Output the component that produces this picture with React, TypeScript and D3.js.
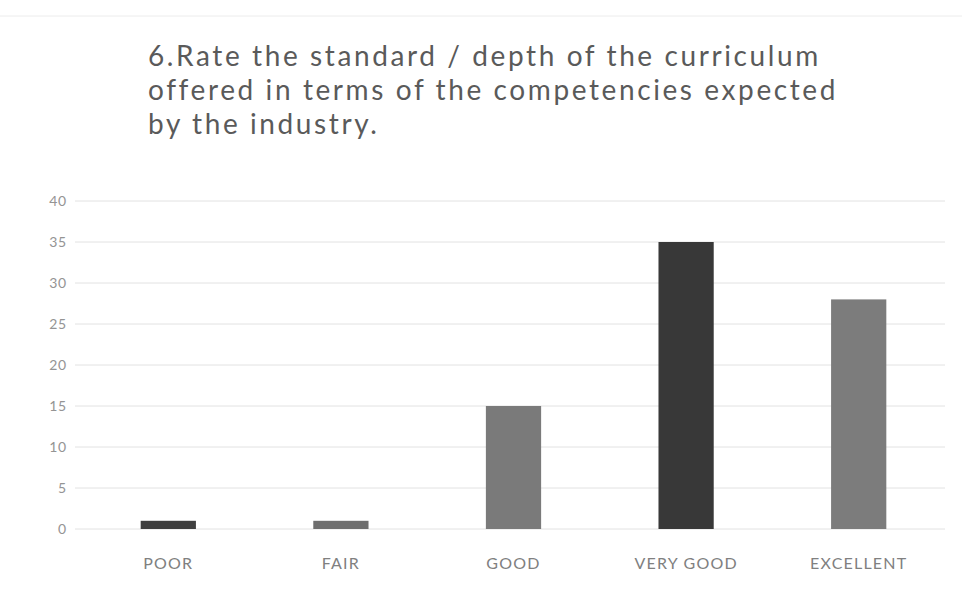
import { useEffect, useRef } from "react";
import * as d3 from "d3";

const categories = ["POOR", "FAIR", "GOOD", "VERY GOOD", "EXCELLENT"];
const values = [1, 1, 15, 35, 28];
const barColors = ["#3f3f3f", "#6e6e6e", "#7a7a7a", "#383838", "#7c7c7c"];
const yTicks = [0, 5, 10, 15, 20, 25, 30, 35, 40];
const titleLines = [
  "6.Rate the standard / depth of the curriculum",
  "offered in terms of the competencies expected",
  "by the industry.",
];

const App = () => {
  const svgRef = useRef<SVGSVGElement | null>(null);

  useEffect(() => {
    if (!svgRef.current) return;
    const width = 962;
    const height = 590;
    const svg = d3.select(svgRef.current);
    svg.selectAll("*").remove();

    svg.append("rect").attr("width", width).attr("height", height).attr("fill", "#fff");

    // faint scan line at the top
    svg.append("line")
      .attr("x1", 0).attr("x2", width).attr("y1", 16).attr("y2", 16)
      .attr("stroke", "#ececec").attr("stroke-width", 1);

    // title
    svg.append("g")
      .selectAll("text")
      .data(titleLines)
      .join("text")
      .attr("x", 148)
      .attr("y", (_, i) => 66 + i * 34)
      .attr("font-family", "Lato, 'Open Sans', sans-serif")
      .attr("font-size", 28)
      .attr("letter-spacing", 2.6)
      .attr("fill", "#5a5a5a")
      .text(d => d);

    const x = d3.scaleBand<string>()
      .domain(categories)
      .range([82, 945])
      .paddingInner(0.68)
      .paddingOuter(0.34);

    const y = d3.scaleLinear().domain([0, 40]).range([529, 201]);

    // gridlines
    svg.append("g")
      .selectAll("line")
      .data(yTicks)
      .join("line")
      .attr("x1", 75)
      .attr("x2", 945)
      .attr("y1", d => y(d))
      .attr("y2", d => y(d))
      .attr("stroke", "#e2e2e2")
      .attr("stroke-width", 1);

    // y tick labels
    svg.append("g")
      .selectAll("text")
      .data(yTicks)
      .join("text")
      .attr("x", 67)
      .attr("y", d => y(d) + 5)
      .attr("text-anchor", "end")
      .attr("font-family", "Lato, 'Open Sans', sans-serif")
      .attr("font-size", 14)
      .attr("letter-spacing", 0.8)
      .attr("fill", "#949494")
      .text(d => d);

    // bars
    svg.append("g")
      .selectAll("rect")
      .data(values)
      .join("rect")
      .attr("x", (_, i) => x(categories[i])!)
      .attr("width", x.bandwidth())
      .attr("y", d => y(d))
      .attr("height", d => y(0) - y(d))
      .attr("fill", (_, i) => barColors[i]);

    // x labels
    svg.append("g")
      .selectAll("text")
      .data(categories)
      .join("text")
      .attr("x", d => x(d)! + x.bandwidth() / 2)
      .attr("y", 569)
      .attr("text-anchor", "middle")
      .attr("font-family", "Lato, 'Open Sans', sans-serif")
      .attr("font-size", 16)
      .attr("letter-spacing", 1.2)
      .attr("fill", "#808080")
      .text(d => d);
  }, []);

  return <svg ref={svgRef} width={962} height={590} style={{ display: "block", position: "absolute", left: 0, top: 0 }} />;
};

export default App;
